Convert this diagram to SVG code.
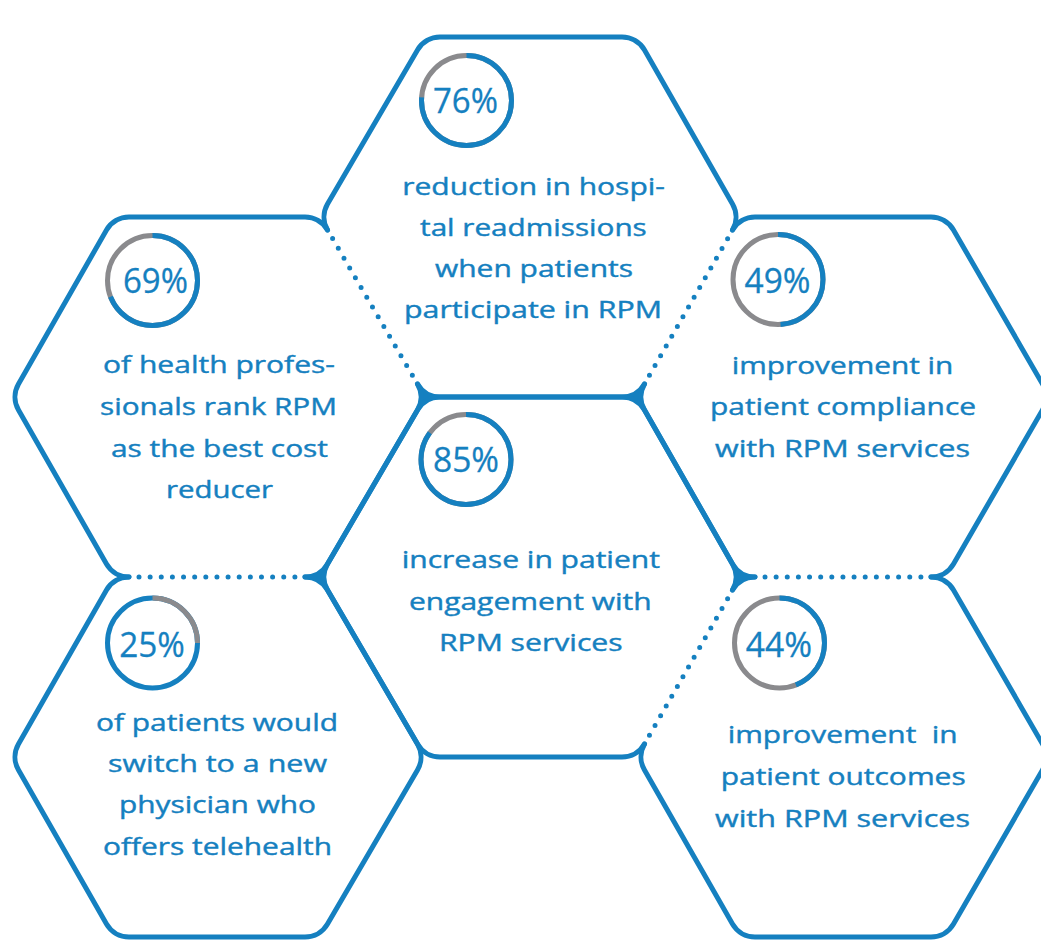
<svg xmlns="http://www.w3.org/2000/svg" width="1041" height="950" viewBox="0 0 1041 950">
<style>
.hex{fill:none;stroke:#1580c0;stroke-width:5;stroke-linecap:round;stroke-linejoin:round}
.dot{fill:none;stroke:#1580c0;stroke-width:5;stroke-linecap:round;stroke-dasharray:0 1}
.joint{fill:#1580c0;stroke:#1580c0;stroke-width:1}
.track{fill:none;stroke:#8a8a8d;stroke-width:5}
.prog{fill:none;stroke:#1580c0;stroke-width:5}
.pct{font-family:"Open Sans","Liberation Sans",sans-serif;font-size:35px;fill:#1580c0;stroke:#1580c0;stroke-width:0.3;text-anchor:middle}
.body{font-family:"Open Sans","Liberation Sans",sans-serif;font-size:23px;fill:#1580c0;stroke:#1580c0;stroke-width:0.4;text-anchor:middle}
</style>
<rect width="1041" height="950" fill="#ffffff"/>

<g id="connectors">
<path class="dot" pathLength="14.01" d="M332.6,238.6 L412.4,375.4"/>
<path class="dot" pathLength="14.01" d="M727.6,238.7 L649.4,375.3"/>
<path class="dot" pathLength="14.01" d="M139,577 L295,577"/>
<path class="dot" pathLength="14.01" d="M765,577 L921,577"/>
<path class="dot" pathLength="14.01" d="M727.6,598.7 L649.4,735.3"/>
</g>

<g id="junctions">
<path class="joint" d="M440,397 A26 26 0 0 1 417.5,384 A26 26 0 0 1 417.5,410 A26 26 0 0 1 440,397 Z"/>
<path class="joint" d="M622,397 A26 26 0 0 1 644.5,410 A26 26 0 0 1 644.5,384 A26 26 0 0 1 622,397 Z"/>
<path class="joint" d="M305,577 A26 26 0 0 1 327.5,590 A26 26 0 0 1 327.5,564 A26 26 0 0 1 305,577 Z"/>
<path class="joint" d="M755,577 A26 26 0 0 1 732.5,564 A26 26 0 0 1 732.5,590 A26 26 0 0 1 755,577 Z"/>
</g>

<g id="hex-76">
<path class="hex" d="M327.5,204 L417.5,50 A26 26 0 0 1 440,37 L622,37 A26 26 0 0 1 644.5,50 L732.5,204 A26 26 0 0 1 732.5,230 M644.5,384 A26 26 0 0 1 622,397 L440,397 A26 26 0 0 1 417.5,384 M327.5,230 A26 26 0 0 1 327.5,204"/>
<circle class="track" cx="466.5" cy="100.5" r="45"/>
<circle class="prog" cx="466.5" cy="100.5" r="45" stroke-dasharray="214.88 400" transform="rotate(-90 466.5 100.5)"/>
<text class="pct" x="465.5" y="113" textLength="65" lengthAdjust="spacingAndGlyphs">76%</text>
<text class="body" x="533.6" y="195" textLength="262.7" lengthAdjust="spacingAndGlyphs">reduction in hospi-</text>
<text class="body" x="533.4" y="236" textLength="226.7" lengthAdjust="spacingAndGlyphs">tal readmissions</text>
<text class="body" x="534" y="277" textLength="198" lengthAdjust="spacingAndGlyphs">when patients</text>
<text class="body" x="533" y="318" textLength="258" lengthAdjust="spacingAndGlyphs">participate in RPM</text>
</g>

<g id="hex-69">
<path class="hex" d="M18.5,384 L106.5,230 A26 26 0 0 1 129,217 L305,217 A26 26 0 0 1 327.5,230 M417.5,384 A26 26 0 0 1 417.5,410 L327.5,564 A26 26 0 0 1 305,577 M129,577 A26 26 0 0 1 106.5,564 L18.5,410 A26 26 0 0 1 18.5,384"/>
<circle class="track" cx="152.5" cy="280.5" r="45"/>
<circle class="prog" cx="152.5" cy="280.5" r="45" stroke-dasharray="195.09 400" transform="rotate(-90 152.5 280.5)"/>
<text class="pct" x="155.5" y="293.3" textLength="65" lengthAdjust="spacingAndGlyphs">69%</text>
<text class="body" x="219" y="373" textLength="232" lengthAdjust="spacingAndGlyphs">of health profes-</text>
<text class="body" x="218.5" y="415" textLength="237" lengthAdjust="spacingAndGlyphs">sionals rank RPM</text>
<text class="body" x="219.5" y="457" textLength="217" lengthAdjust="spacingAndGlyphs">as the best cost</text>
<text class="body" x="219.5" y="498" textLength="107" lengthAdjust="spacingAndGlyphs">reducer</text>
</g>

<g id="hex-49">
<path class="hex" d="M732.5,230 A26 26 0 0 1 755,217 L931,217 A26 26 0 0 1 953.5,230 L1042.5,384 A26 26 0 0 1 1042.5,410 L953.5,564 A26 26 0 0 1 931,577 M755,577 A26 26 0 0 1 732.5,564 L644.5,410 A26 26 0 0 1 644.5,384"/>
<circle class="track" cx="778" cy="279.5" r="45"/>
<circle class="prog" cx="778" cy="279.5" r="45" stroke-dasharray="138.54 400" transform="rotate(-90 778 279.5)"/>
<text class="pct" x="777.5" y="293.3" textLength="66" lengthAdjust="spacingAndGlyphs">49%</text>
<text class="body" x="842.5" y="373.5" textLength="221.6" lengthAdjust="spacingAndGlyphs">improvement in</text>
<text class="body" x="843" y="415" textLength="266" lengthAdjust="spacingAndGlyphs">patient compliance</text>
<text class="body" x="842.5" y="456.5" textLength="255" lengthAdjust="spacingAndGlyphs">with RPM services</text>
</g>

<g id="hex-85">
<path class="hex" d="M327.5,564 L417.5,410 A26 26 0 0 1 440,397 L622,397 A26 26 0 0 1 644.5,410 L732.5,564 A26 26 0 0 1 732.5,590 M644.5,744 A26 26 0 0 1 622,757 L440,757 A26 26 0 0 1 417.5,744 L327.5,590 A26 26 0 0 1 327.5,564"/>
<circle class="track" cx="466" cy="459.5" r="45"/>
<circle class="prog" cx="466" cy="459.5" r="45" stroke-dasharray="240.33 400" transform="rotate(-90 466 459.5)"/>
<text class="pct" x="466" y="471.7" textLength="66" lengthAdjust="spacingAndGlyphs">85%</text>
<text class="body" x="530.8" y="568" textLength="258.3" lengthAdjust="spacingAndGlyphs">increase in patient</text>
<text class="body" x="530.3" y="609.5" textLength="242.7" lengthAdjust="spacingAndGlyphs">engagement with</text>
<text class="body" x="530.8" y="651" textLength="183.7" lengthAdjust="spacingAndGlyphs">RPM services</text>
</g>

<g id="hex-25">
<path class="hex" d="M18.5,744 L106.5,590 A26 26 0 0 1 129,577 M305,577 A26 26 0 0 1 327.5,590 L417.5,744 A26 26 0 0 1 417.5,770 L327.5,924 A26 26 0 0 1 305,937 L129,937 A26 26 0 0 1 106.5,924 L18.5,770 A26 26 0 0 1 18.5,744"/>
<circle class="prog" cx="152.5" cy="643" r="45"/>
<circle class="track" cx="152.5" cy="643" r="45" stroke-dasharray="70.69 400" transform="rotate(-90 152.5 643)"/>
<text class="pct" x="152" y="657.3" textLength="65.7" lengthAdjust="spacingAndGlyphs">25%</text>
<text class="body" x="217" y="730.7" textLength="242" lengthAdjust="spacingAndGlyphs">of patients would</text>
<text class="body" x="217.5" y="771.7" textLength="219" lengthAdjust="spacingAndGlyphs">switch to a new</text>
<text class="body" x="217.5" y="813" textLength="197" lengthAdjust="spacingAndGlyphs">physician who</text>
<text class="body" x="217.5" y="855" textLength="229" lengthAdjust="spacingAndGlyphs">offers telehealth</text>
</g>

<g id="hex-44">
<path class="hex" d="M732.5,590 A26 26 0 0 1 755,577 M931,577 A26 26 0 0 1 953.5,590 L1042.5,744 A26 26 0 0 1 1042.5,770 L953.5,924 A26 26 0 0 1 931,937 L755,937 A26 26 0 0 1 732.5,924 L644.5,770 A26 26 0 0 1 644.5,744"/>
<circle class="track" cx="779.5" cy="643" r="45"/>
<circle class="prog" cx="779.5" cy="643" r="45" stroke-dasharray="124.41 400" transform="rotate(-90 779.5 643)"/>
<text class="pct" x="779" y="657.3" textLength="66.3" lengthAdjust="spacingAndGlyphs">44%</text>
<text class="body" x="842.7" y="743.3" textLength="230" lengthAdjust="spacingAndGlyphs" xml:space="preserve">improvement  in</text>
<text class="body" x="843.2" y="785" textLength="245" lengthAdjust="spacingAndGlyphs">patient outcomes</text>
<text class="body" x="842.5" y="826.7" textLength="255" lengthAdjust="spacingAndGlyphs">with RPM services</text>
</g>
</svg>
